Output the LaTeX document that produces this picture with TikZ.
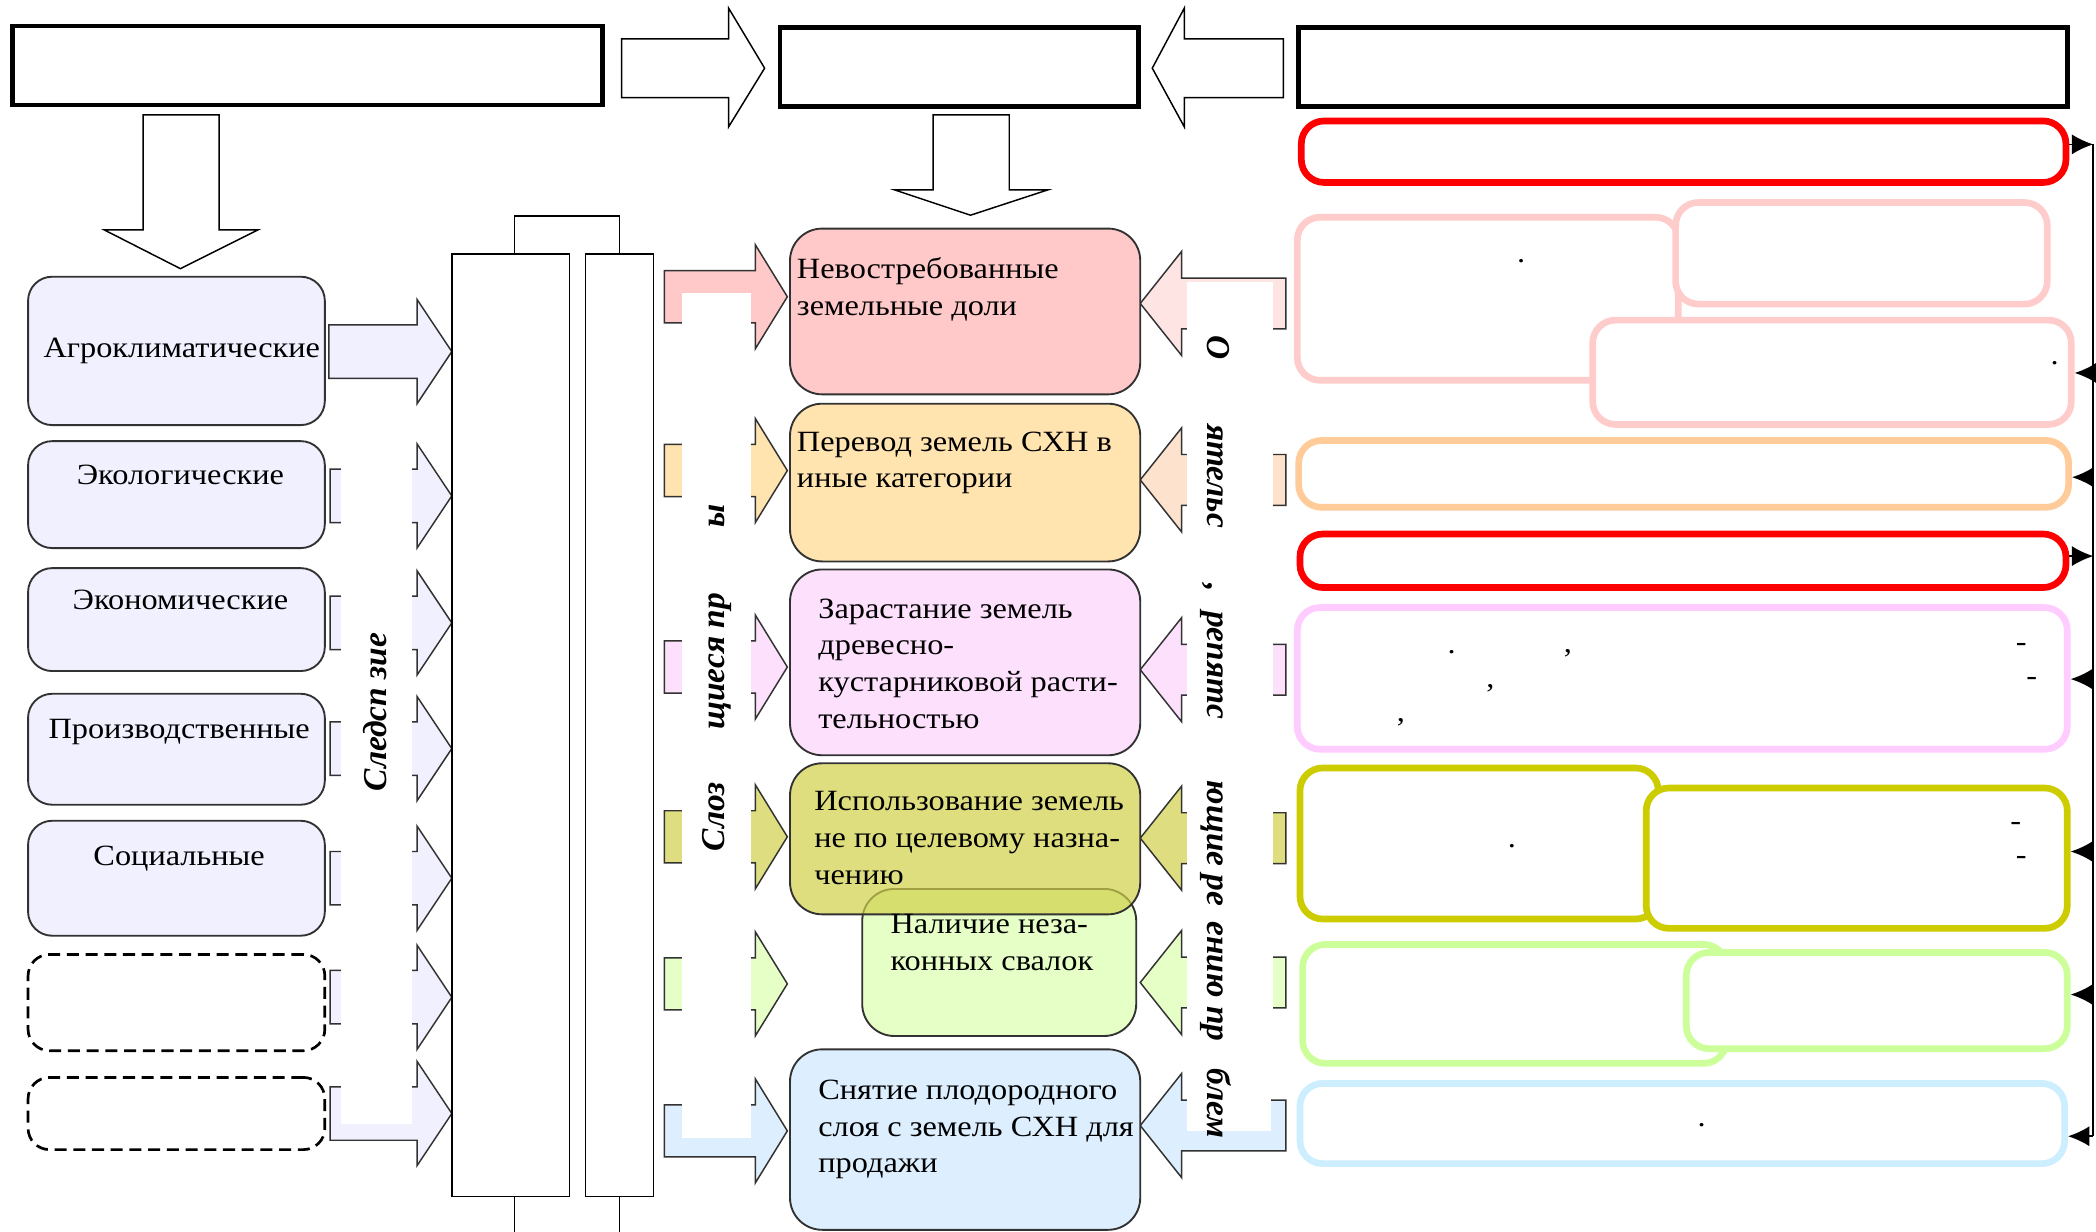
\documentclass[tikz,border=0pt]{standalone}
\usepackage{fontspec}
\setmainfont{Liberation Serif}[FakeStretch=1.1]
\newfontfamily\rotfont{Liberation Serif}
\usetikzlibrary{arrows.meta}

\definecolor{lavfill}{RGB}{240,240,255}
\definecolor{pinkfill}{RGB}{255,201,201}
\definecolor{pinklight}{RGB}{255,228,228}
\definecolor{orangefill}{RGB}{255,228,176}
\definecolor{peachfill}{RGB}{253,226,206}
\definecolor{violetfill}{RGB}{252,224,252}
\definecolor{olivefill}{RGB}{208,208,74}
\definecolor{olivearrow}{RGB}{222,222,128}
\definecolor{greenfill}{RGB}{230,255,198}
\definecolor{bluefill}{RGB}{221,239,255}
\definecolor{boxline}{RGB}{50,50,50}
\definecolor{rpink}{RGB}{255,204,204}
\definecolor{rorange}{RGB}{255,204,153}
\definecolor{rred}{RGB}{255,0,0}
\definecolor{rviolet}{RGB}{255,204,255}
\definecolor{rolive}{RGB}{204,204,0}
\definecolor{rgreen}{RGB}{204,255,153}
\definecolor{rblue}{RGB}{204,238,255}

\begin{document}
\begin{tikzpicture}
  [x=1pt,y=-1pt,
   every node/.style={font=\fontsize{22}{27.5}\selectfont,inner sep=0pt},
   topbox/.style={draw,line width=3.5pt,minimum height=59},
   lbox/.style={draw=boxline,line width=1.4pt,rounded corners=18pt,fill=lavfill,minimum width=222},
   dbox/.style={draw,line width=2pt,dash pattern=on 9pt off 5pt,rounded corners=16pt,minimum width=222},
   cbox/.style={draw=boxline,line width=1.4pt,rounded corners=24pt,minimum width=262},
   colbox/.style={draw,line width=1.2pt,minimum height=705},
   rbox/.style={line width=5pt,rounded corners=17pt,fill=white},
   barrow/.style={draw,line width=1.1pt,fill=white},
   blk/.style={draw=boxline,line width=1.1pt},
   ctext/.style={align=left,anchor=north west},
   rot/.style={font=\rotfont\bfseries\itshape\fontsize{25}{25}\selectfont,anchor=base west},
   conn/.style={line width=1.3pt},
   outtip/.style={-{Latex[length=16pt,width=15pt]}},
   intip/.style={{Latex[length=16pt,width=15pt]}-}]

  \fill[white] (0,0) rectangle (1568,921);
  \useasboundingbox (0,0) rectangle (1568,921);

  \node[topbox,minimum width=441] (factors) at (230,49) {};
  \node[topbox,minimum width=268] (problems) at (717.5,50) {};
  \node[topbox,minimum width=575] (measures) at (1259,50) {};

  \draw[barrow] (465,29) -- (545,29) -- (545,6) -- (572,51) -- (545,95) -- (545,73) -- (465,73) -- cycle;
  \draw[barrow] (960,29) -- (886,29) -- (886,6) -- (862,51) -- (886,95) -- (886,73) -- (960,73) -- cycle;
  \draw[barrow] (107,86) -- (164,86) -- (164,172) -- (193,172) -- (135,201) -- (78,172) -- (107,172) -- cycle;
  \draw[barrow] (698,86) -- (755,86) -- (755,142) -- (784,142) -- (726,161) -- (669,142) -- (698,142) -- cycle;

  \node[lbox,minimum height=111] (agro) at (132,262.5) {};
  \node[lbox,minimum height=80] (ecol) at (132,370) {};
  \node[lbox,minimum height=77] (econ) at (132,463.5) {};
  \node[lbox,minimum height=83] (prod) at (132,560.5) {};
  \node[lbox,minimum height=86] (social) at (132,657) {};
  \node[dbox,minimum height=72] (extra1) at (132,750) {};
  \node[dbox,minimum height=54] (extra2) at (132,833) {};

  \node (agro-t) at ([xshift=4pt]agro) {Агроклиматические};
  \node[anchor=base] (ecol-t) at ([xshift=3pt,yshift=-33pt]ecol.north) {Экологические};
  \node[anchor=base] (econ-t) at ([xshift=3pt,yshift=-32pt]econ.north) {Экономические};
  \node[anchor=base] (prod-t) at ([xshift=2pt,yshift=-34pt]prod.north) {Производственные};
  \node[anchor=base] (social-t) at ([xshift=2pt,yshift=-34pt]social.north) {Социальные};

  \draw[blk,fill=lavfill] (246,243) -- (312,243) -- (312,224) -- (338,263) -- (312,302) -- (312,283) -- (246,283) -- cycle;
  \foreach \yc in {371,466,560,657,746,833}
    \draw[blk,fill=lavfill] (247,\yc-20) -- (312,\yc-20) -- (312,\yc-39) -- (338,\yc) -- (312,\yc+39) -- (312,\yc+20) -- (247,\yc+20) -- cycle;
  \foreach \yc in {371,466,560,657,746}
    \fill[white] (255,\yc-23) rectangle (308,\yc+23);
  \fill[white] (255,810) rectangle (308,841);

  \node[colbox,minimum width=88] (col1) at (382,542.5) {};
  \node[colbox,minimum width=51] (col2) at (463.5,542.5) {};
  \draw[line width=1.2pt] ([xshift=3pt]col1.north) -- ++(0,-28) -| (col2.north);
  \draw[line width=1.2pt] ([xshift=3pt]col1.south) -- ++(0,27) (col2.south) -- ++(0,27);

  \foreach \yc/\col in {222/pinkfill,352/orangefill,499/violetfill,626/olivearrow,736/greenfill,846/bluefill}
    \draw[blk,fill=\col] (497,\yc-19.5) -- (565,\yc-19.5) -- (565,\yc-39) -- (589,\yc) -- (565,\yc+39) -- (565,\yc+19.5) -- (497,\yc+19.5) -- cycle;
  \fill[white] (510,219) rectangle (562,246);
  \foreach \yc in {352,499,626,736}
    \fill[white] (510,\yc-22) rectangle (562,\yc+22);
  \fill[white] (510,822) rectangle (562,851);

  \foreach \yc/\col in {227/pinklight,359/peachfill,501/violetfill,627/olivearrow,735/greenfill,842/bluefill}
    \draw[blk,fill=\col] (962,\yc-19) -- (884,\yc-19) -- (884,\yc-39) -- (853,\yc) -- (884,\yc+39) -- (884,\yc+19) -- (962,\yc+19) -- cycle;
  \fill[white] (888,211) rectangle (952,250);
  \foreach \yc in {359,501,627,735}
    \fill[white] (888,\yc-22) rectangle (952,\yc+22);
  \fill[white] (888,819) rectangle (951,846);

  \node[cbox,fill=pinkfill,minimum height=124] (shares) at (722,233) {};
  \node[cbox,fill=orangefill,minimum height=118] (transfer) at (722,361) {};
  \node[cbox,fill=violetfill,minimum height=139] (overgrowth) at (722,495.5) {};
  \node[cbox,fill=greenfill,minimum width=205,minimum height=110] (dumps) at (747.5,720) {};
  \node[cbox,fill=olivefill,fill opacity=.7,minimum height=113] (misuse) at (722,627.5) {};
  \node[cbox,fill=bluefill,minimum height=135] (topsoil) at (722,852.5) {};

  \node[ctext] (shares-t) at (596,189) {\strut Невостребованные\\земельные доли};
  \node[ctext] (transfer-t) at (596,318) {\strut Перевод земель СХН в\\иные категории};
  \node[ctext] (overgrowth-t) at (612,443) {\strut Зарастание земель\\древесно-\\кустарниковой расти-\\тельностью};
  \node[ctext] (misuse-t) at (609,587) {\strut Использование земель\\не по целевому назна-\\чению};
  \node[ctext] (dumps-t) at (666,679) {\strut Наличие неза-\\конных свалок};
  \node[ctext] (topsoil-t) at (612,803) {\strut Снятие плодородного\\слоя с земель СХН для\\продажи};

  \node[rot,rotate=90] (cause-a) at (289,592) {Следсп зие};
  \node[rot,rotate=90] (prob-a) at (542,395) {ы};
  \node[rot,rotate=90] (prob-b) at (542,546) {щиеся пр};
  \node[rot,rotate=90] (prob-c) at (542,637) {Слоз};
  \node[rot,rotate=-90] (obst-a) at (903,251) {О};
  \node[rot,rotate=-90] (obst-b) at (903,317) {ятельс};
  \node[rot,rotate=-90] (obst-c) at (903,436) {,};
  \node[rot,rotate=-90] (obst-d) at (903,457) {репятс};
  \node[rot,rotate=-90] (obst-e) at (903,584) {ющие ре};
  \node[rot,rotate=-90] (obst-f) at (903,689) {ению пр};
  \node[rot,rotate=-90] (obst-g) at (903,799) {блем};

  \node[rbox,draw=rred,minimum width=572,minimum height=46] (redA) at (1259.5,113.5) {};
  \node[rbox,draw=rpink,minimum width=285,minimum height=122] (pinkA) at (1113,223.5) {};
  \node[rbox,draw=rpink,minimum width=278,minimum height=76] (pinkB) at (1392.5,189.5) {};
  \node[rbox,draw=rpink,minimum width=358,minimum height=78] (pinkC) at (1370.5,278.5) {};
  \node[rbox,draw=rorange,minimum width=576,minimum height=50] (orangeA) at (1259.5,354.5) {};
  \node[rbox,draw=rred,minimum width=573,minimum height=40] (redB) at (1259,419.5) {};
  \node[rbox,draw=rviolet,minimum width=576,minimum height=106] (violetA) at (1258.5,507.5) {};
  \node[rbox,draw=rolive,minimum width=268,minimum height=113] (oliveA) at (1106.5,631) {};
  \node[rbox,draw=rolive,minimum width=315,minimum height=105] (oliveB) at (1389,642) {};
  \node[rbox,draw=rgreen,minimum width=317,minimum height=89] (greenA) at (1133,751) {};
  \node[rbox,draw=rgreen,minimum width=285,minimum height=72] (greenB) at (1404,748.5) {};
  \node[rbox,draw=rblue,minimum width=572,minimum height=60] (blueA) at (1258.5,840.5) {};

  \foreach \x/\y/\c [count=\i] in {1138/196/., 1537/273/., 1086/489/., 1173/488/{,}, 1115/514/{,},
      1048/540/{,}, 1512/487/-, 1520/513/-, 1131/634/., 1508/621/-, 1512/647/-, 1273/843/.}
    \node[anchor=base] (pm\i) at (\x,\y) {\c};

  \coordinate (b1) at (1566,108);
  \coordinate (b2) at (1566,279);
  \coordinate (b3) at (1566,357);
  \coordinate (b4) at (1566,416);
  \coordinate (b5) at (1566,508);
  \coordinate (b6) at (1566,637);
  \coordinate (b7) at (1566,744);
  \coordinate (b8) at (1566,850);

  \draw[conn] (b1) -- (b8);
  \draw[conn,outtip] (redA.east |- b1) -- (b1);
  \draw[conn,outtip] (redB.east |- b4) -- (b4);
  \draw[conn,intip] (pinkC.east |- b2) -- (b2);
  \draw[conn,intip] (orangeA.east |- b3) -- (b3);
  \draw[conn,intip] (violetA.east |- b5) -- (b5);
  \draw[conn,intip] (oliveB.east |- b6) -- (b6);
  \draw[conn,intip] (greenB.east |- b7) -- (b7);
  \draw[conn,intip] (blueA.east |- b8) -- (b8);
\end{tikzpicture}
\end{document}
